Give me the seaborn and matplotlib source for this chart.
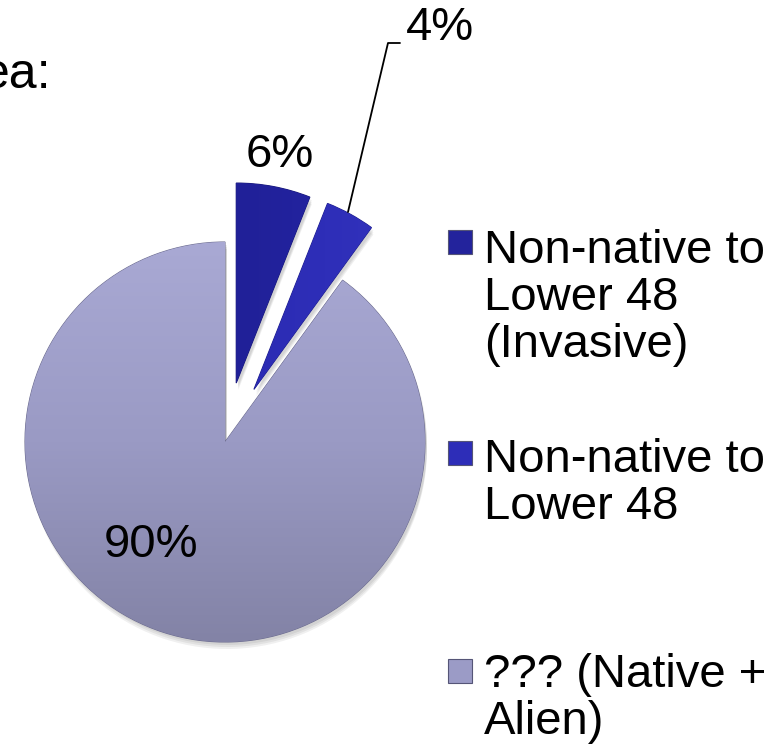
import numpy as np
import matplotlib
matplotlib.use("Agg")
import matplotlib.pyplot as plt
import seaborn as sns
from matplotlib.patches import Rectangle, PathPatch
from matplotlib.transforms import Affine2D
from matplotlib.colors import LinearSegmentedColormap

sns.set_theme(style="white")
plt.rcParams['font.family'] = ['Liberation Sans', 'DejaVu Sans']

# ---- data ----
categories = ["Non-native to\nLower 48\n(Invasive)", "Non-native to\nLower 48", "??? (Native +\nAlien)"]
values = [6, 4, 90]
pct_labels = ["6%", "4%", "90%"]
colors = ['#23239c', '#2d2db8', '#9b9bc6']
title_fragment = "ea:"

W, H = 782, 748
fig = plt.figure(figsize=(7.82, 7.48), dpi=100)
ax = fig.add_axes([0, 0, 1, 1])

cx, cy, R = 225, H - 442, 200
explode_px = [60, 60, 0]

wedges, _ = ax.pie(values, colors=colors, startangle=90, counterclock=False,
                   explode=explode_px, center=(cx, cy), radius=R, frame=True,
                   wedgeprops=dict(linewidth=0.8, edgecolor='#6e6e90'))
wedges[0].set_edgecolor('#1a1a78')
wedges[1].set_edgecolor('#20208c')
for w in wedges:
    w.set_zorder(2)

# soft shadows under each slice
for w in wedges:
    p = w.get_path()
    for k in range(3):
        sh = PathPatch(p.transformed(Affine2D().translate(2, -3 - 2 * k)), facecolor='black',
                       alpha=0.06, lw=0, zorder=1)
        ax.add_patch(sh)

# gradient on big slice
grad = np.linspace(0, 1, 256).reshape(-1, 1)
cmap = LinearSegmentedColormap.from_list('lav', ['#8383a6', '#9a9ac4', '#a9a9d4'])
im = ax.imshow(grad, extent=(cx - R, cx + R, cy - R, cy + R), cmap=cmap, origin='lower',
               aspect='auto', zorder=2.5)
im.set_clip_path(wedges[2])
# gradient on blue slices
for w, c in zip(wedges[:2], [['#1a1a84', '#2323a0', '#2e2eb0'], ['#2424a6', '#2e2eb8', '#4040cc']]):
    cm = LinearSegmentedColormap.from_list('b', c)
    im2 = ax.imshow(grad.T, extent=(cx - R, cx + 2 * R, cy - R, cy + 2 * R), cmap=cm, origin='lower',
                    aspect='auto', zorder=2.5)
    im2.set_clip_path(w)

ax.set_xlim(0, W)
ax.set_ylim(0, H)
ax.set_aspect('equal')
ax.axis('off')

fs = 34
# percentage labels
ax.text(280, H - 155, pct_labels[0], ha='center', va='center', fontsize=fs, color='black', zorder=5)
ax.text(440, H - 28, pct_labels[1], ha='center', va='center', fontsize=fs, color='black', zorder=5)
ax.plot([348, 388, 400], [H - 212, H - 43, H - 43], color='black', lw=1.3, zorder=5)
ax.text(151, H - 545, pct_labels[2], ha='center', va='center', fontsize=fs, color='black', zorder=5)

# title fragment (cut off at the left, as in the reference)
ax.text(51, H - 88, title_fragment, ha='right', va='baseline', fontsize=36, color='black')

# legend
marker_centers = [242, 453, 671]
first_baselines = [263, 472, 687]
line_step = 47
for lab, col, mc, bl in zip(categories, colors, marker_centers, first_baselines):
    ax.add_patch(Rectangle((448, H - mc - 12), 24, 24, facecolor=col, edgecolor='#555577', lw=0.8, zorder=5))
    for j, line in enumerate(lab.split("\n")):
        ax.text(484, H - (bl + j * line_step), line, ha='left', va='baseline', fontsize=fs, color='black')

fig.savefig("out.png", dpi=100)
